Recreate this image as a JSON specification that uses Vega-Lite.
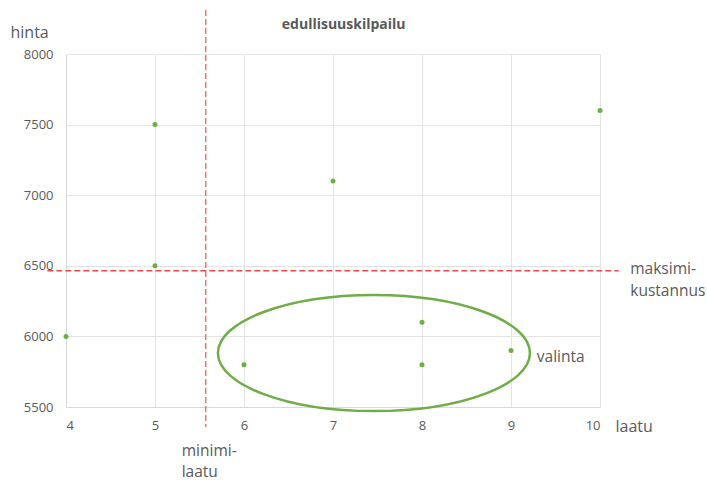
{
  "$schema": "https://vega.github.io/schema/vega-lite/v6.json",
  "width": 534,
  "height": 353,
  "autosize": "none",
  "padding": {"left": 66, "top": 54, "right": 107, "bottom": 74},
  "background": "white",
  "config": {
    "view": {"stroke": null},
    "font": "Open Sans",
    "axis": {"labelFont": "Open Sans", "titleFont": "Open Sans", "labelColor": "#595959", "titleColor": "#595959", "gridColor": "#e4e4e4", "domainColor": "#d9d9d9", "ticks": false}
  },
  "layer": [
    {
      "data": {"values": [
        {"laatu": 4, "hinta": 6000},
        {"laatu": 5, "hinta": 7500},
        {"laatu": 5, "hinta": 6500},
        {"laatu": 6, "hinta": 5800},
        {"laatu": 7, "hinta": 7100},
        {"laatu": 8, "hinta": 6100},
        {"laatu": 8, "hinta": 5800},
        {"laatu": 9, "hinta": 5900},
        {"laatu": 10, "hinta": 7600}
      ]},
      "mark": {"type": "point", "filled": true, "size": 25, "color": "#70ad47", "opacity": 1},
      "encoding": {
        "x": {"field": "laatu", "type": "quantitative", "scale": {"domain": [4, 10], "nice": false, "zero": false},
          "axis": {"values": [4, 5, 6, 7, 8, 9, 10], "format": "d", "labelFontSize": 13, "labelPadding": 12, "domain": true,
            "title": "laatu", "titleFontSize": 16, "titleFontWeight": "normal", "titleAlign": "left", "titleBaseline": "alphabetic", "titleX": 549, "titleY": 24}},
        "y": {"field": "hinta", "type": "quantitative", "scale": {"domain": [5500, 8000], "nice": false, "zero": false},
          "axis": {"values": [5500, 6000, 6500, 7000, 7500, 8000], "format": "d", "labelFontSize": 13, "labelPadding": 13, "domain": true,
            "title": "hinta", "titleFontSize": 16, "titleFontWeight": "normal", "titleAngle": 0, "titleAlign": "left", "titleBaseline": "alphabetic", "titleX": -56, "titleY": -17}}
      }
    },
    {
      "data": {"values": [{"raja": "minimilaatu", "laatu": 5.57}]},
      "mark": {"type": "rule", "color": "#f26a6a", "strokeWidth": 1.4, "strokeDash": [6, 3]},
      "encoding": {"x": {"field": "laatu", "type": "quantitative"}, "y": {"datum": 8311}, "y2": {"datum": 5358}}
    },
    {
      "data": {"values": [{"raja": "maksimikustannus", "hinta": 6465}]},
      "mark": {"type": "rule", "color": "#ec4a4a", "strokeWidth": 1.4, "strokeDash": [6, 3]},
      "encoding": {"y": {"field": "hinta", "type": "quantitative"}, "x": {"datum": 3.79}, "x2": {"datum": 10.21}}
    },
    {
      "data": {"values": [{"alue": "valinta", "laatu": 7.46, "hinta": 5882}]},
      "mark": {"type": "point", "shape": "M-1,0A1,0.372 0 1,1 1,0A1,0.372 0 1,1 -1,0Z", "size": 97344, "filled": false, "stroke": "#70ad47", "strokeWidth": 2.5, "opacity": 1},
      "encoding": {"x": {"field": "laatu", "type": "quantitative"}, "y": {"field": "hinta", "type": "quantitative"}}
    },
    {
      "data": {"values": [{"teksti": "edullisuuskilpailu"}]},
      "mark": {"type": "text", "align": "center", "baseline": "middle", "fontSize": 14, "fontWeight": "bold", "fill": "#595959", "font": "Open Sans"},
      "encoding": {"text": {"field": "teksti"}, "x": {"datum": 7.12}, "y": {"datum": 8205}}
    },
    {
      "data": {"values": [{"teksti": "valinta"}]},
      "mark": {"type": "text", "align": "left", "baseline": "alphabetic", "fontSize": 15.5, "fontWeight": "normal", "fill": "#595959", "font": "Open Sans"},
      "encoding": {"text": {"field": "teksti"}, "x": {"datum": 9.29}, "y": {"datum": 5819}}
    },
    {
      "data": {"values": [{"teksti": "minimi-"}]},
      "mark": {"type": "text", "text": ["minimi-", "laatu"], "align": "left", "baseline": "alphabetic", "fontSize": 15.5, "fontWeight": "normal", "lineHeight": 21, "fill": "#595959", "font": "Open Sans"},
      "encoding": {"x": {"datum": 5.3}, "y": {"datum": 5153}}
    },
    {
      "data": {"values": [{"teksti": "maksimi-"}]},
      "mark": {"type": "text", "text": ["maksimi-", "kustannus"], "align": "left", "baseline": "alphabetic", "fontSize": 15.5, "fontWeight": "normal", "lineHeight": 22, "fill": "#595959", "font": "Open Sans"},
      "encoding": {"x": {"datum": 10.34}, "y": {"datum": 6442}}
    }
  ]
}
